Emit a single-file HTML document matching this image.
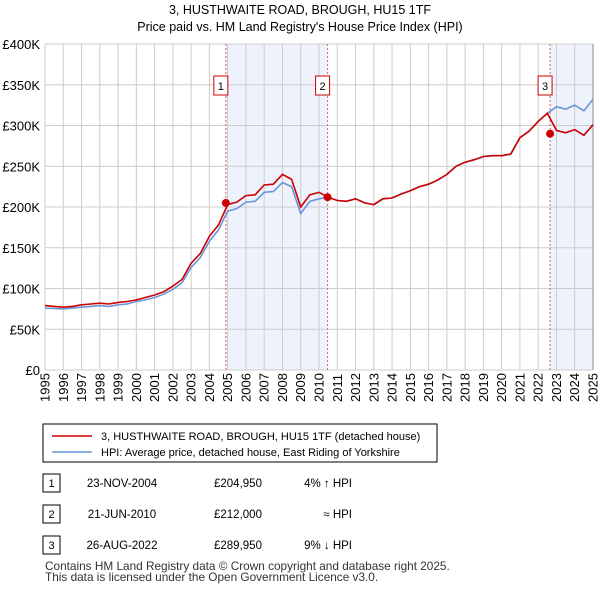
<!DOCTYPE html>
<html><head><meta charset="utf-8"><style>
body{margin:0;background:#fff;font-family:"Liberation Sans","DejaVu Sans",sans-serif;}
#wrap{position:relative;width:600px;height:590px;overflow:hidden;}
</style></head><body>
<div id="wrap">
<svg id="chart" width="600" height="590" style="position:absolute;left:0;top:0"></svg>
</div>
<script>
const years=[1995,1995.5,1996,1996.5,1997,1997.5,1998,1998.5,1999,1999.5,2000,2000.5,2001,2001.5,2002,2002.5,2003,2003.5,2004,2004.5,2005,2005.5,2006,2006.5,2007,2007.5,2008,2008.5,2009,2009.5,2010,2010.5,2011,2011.5,2012,2012.5,2013,2013.5,2014,2014.5,2015,2015.5,2016,2016.5,2017,2017.5,2018,2018.5,2019,2019.5,2020,2020.5,2021,2021.5,2022,2022.5,2023,2023.5,2024,2024.5,2025];
const hpi=[76,75.5,75,76,77,78,79,78,80,81,84,86,89,93,99,107,126,138,158,172,195,198,206,207,218,219,230,225,192,207,210,212,208,207,210,205,203,210,211,216,220,225,228,233,240,250,255,258,262,263,263,265,285,293,305,315,323,320,325,318,332];
const paid=[79,78,77,78,80,81,82,81,83,84,86,89,92,96,103,111,131,143,164,178,203,206,214,215,227,228,240,234,200,215,218,212,208,207,210,205,203,210,211,216,220,225,228,233,240,250,255,258,262,263,263,265,285,293,305,315,294,291,295,288,301];
const sales=[{n:"1",t:2004.9,v:204.95,d:"23-NOV-2004",p:"£204,950",h:"4% ↑ HPI"},{n:"2",t:2010.47,v:212,d:"21-JUN-2010",p:"£212,000",h:"≈ HPI"},{n:"3",t:2022.65,v:289.95,d:"26-AUG-2022",p:"£289,950",h:"9% ↓ HPI"}];
const yTicks=[0,50,100,150,200,250,300,350,400];
const xTicks=[1995,1996,1997,1998,1999,2000,2001,2002,2003,2004,2005,2006,2007,2008,2009,2010,2011,2012,2013,2014,2015,2016,2017,2018,2019,2020,2021,2022,2023,2024,2025];
const X0=45,X1=593,Y0=370,Y1=44;
const xs=t=>X0+(t-1995)/30*(X1-X0);
const ys=v=>Y0-v/400*(Y0-Y1);
const svg=document.getElementById('chart');
const NS="http://www.w3.org/2000/svg";
function mk(tag,attrs,parent){const e=document.createElementNS(NS,tag);for(const k in attrs)e.setAttribute(k,attrs[k]);(parent||svg).appendChild(e);return e;}
function txt(x,y,s,attrs){const e=mk('text',Object.assign({x:x,y:y,'font-size':13,'font-family':'Liberation Sans, DejaVu Sans, sans-serif',fill:'#000'},attrs||{}));e.textContent=s;return e;}
let e;
e=txt(300,14,"3, HUSTHWAITE ROAD, BROUGH, HU15 1TF",{'text-anchor':'middle','font-size':12.5});


e=txt(300,31,"Price paid vs. HM Land Registry's House Price Index (HPI)",{'text-anchor':'middle','font-size':12.5});


e=mk('rect',{x:xs(sales[0].t),y:Y1,width:xs(sales[1].t)-xs(sales[0].t),height:Y0-Y1,fill:'#eef2fc'});


e=mk('rect',{x:xs(sales[2].t),y:Y1,width:X1-xs(sales[2].t),height:Y0-Y1,fill:'#eef2fc'});


yTicks.forEach(v=>{
 e=mk('line',{x1:X0,x2:X1,y1:ys(v),y2:ys(v),stroke:'#cccccc','stroke-width':1});
 
 
 e=txt(X0-5,ys(v)+5,v===0?"£0":"£"+v+"K",{'text-anchor':'end'});
 
 
});
xTicks.forEach(t=>{
 e=mk('line',{x1:xs(t),x2:xs(t),y1:Y1,y2:Y0,stroke:'#cccccc','stroke-width':1});
 
 
 e=txt(0,0,String(t),{transform:`translate(${xs(t)+4.5},${Y0+32}) rotate(-90)`});
 
 
});
e=mk('line',{x1:X1,x2:X1,y1:Y1,y2:Y0,stroke:'#888','stroke-width':1});


sales.forEach(s=>{
 e=mk('line',{x1:xs(s.t),x2:xs(s.t),y1:Y1,y2:Y0,stroke:'#e06070','stroke-width':1,'stroke-dasharray':'2,2'});
 
 
 e=mk('rect',{x:xs(s.t)-12,y:76,width:14,height:19,fill:'#fff',stroke:'#cc0000'});
 
 
 e=txt(xs(s.t)-5,90,s.n,{'text-anchor':'middle','font-size':11});
 
 
});
function path(arr,col){let d='';years.forEach((t,i)=>{d+=(i?'L':'M')+xs(t).toFixed(1)+','+ys(arr[i]).toFixed(1);});return mk('path',{d:d,fill:'none',stroke:col,'stroke-width':1.6});}
e=path(hpi,'#6a96d6');


e=path(paid,'#cc0000');


sales.forEach(s=>{
 e=mk('circle',{cx:xs(s.t),cy:ys(s.v),r:4,fill:'#cc0000'});
 
 
});
e=mk('rect',{x:43,y:424,width:394,height:38,fill:'#fff',stroke:'#000'});


e=mk('line',{x1:52,x2:92,y1:436,y2:436,stroke:'#cc0000','stroke-width':1.6});


e=txt(101,440,"3, HUSTHWAITE ROAD, BROUGH, HU15 1TF (detached house)",{'font-size':11});


e=mk('line',{x1:52,x2:92,y1:452,y2:452,stroke:'#6a96d6','stroke-width':1.6});


e=txt(101,456,"HPI: Average price, detached house, East Riding of Yorkshire",{'font-size':11});


const rowY=[483,514,545];
sales.forEach((s,i)=>{
 const y=rowY[i];
 e=mk('rect',{x:43,y:y-9,width:17,height:18,fill:'#fff',stroke:'#000'});
 
 
 e=txt(51.5,y+4,s.n,{'text-anchor':'middle','font-size':11});
 
 
 e=txt(122,y+4,s.d,{'text-anchor':'middle','font-size':11.5});
 
 
 e=txt(214,y+4,s.p,{'font-size':11.5});
 
 
 e=txt(352,y+4,s.h,{'text-anchor':'end','font-size':11.5});
 
 
});
e=txt(45,570,"Contains HM Land Registry data © Crown copyright and database right 2025.",{'font-size':11.8,fill:'#333'});


e=txt(45,581,"This data is licensed under the Open Government Licence v3.0.",{'font-size':11.8,fill:'#333'});


</script>
</body></html>
